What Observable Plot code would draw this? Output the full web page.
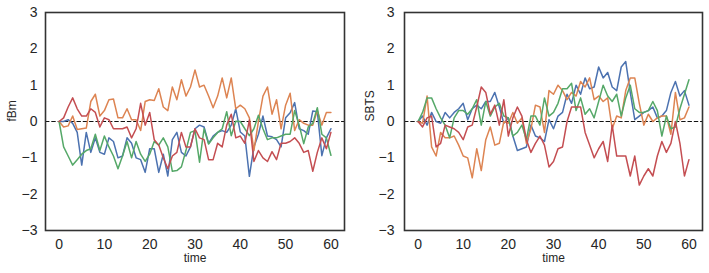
<!DOCTYPE html>
<html><head><meta charset="utf-8">
<script src="https://cdn.jsdelivr.net/npm/d3@7"></script>
<script src="https://cdn.jsdelivr.net/npm/@observablehq/plot@0.6"></script>
<style>
body{margin:0;background:#fff;}
#wrap{display:flex;width:709px;height:273px;}
#wrap svg{display:block;}
</style></head><body><div id="wrap"></div>
<script>
const time = d3.range(0, 61);
const xTicks = [0, 10, 20, 30, 40, 50, 60];
const yTicks = [-3, -2, -1, 0, 1, 2, 3];
const seriesNames = ["s1", "s2", "s3", "s4"];
const colors = ["#4C72B0", "#DD8452", "#55A868", "#C44E52"];

const fbmBlue = [0,0,0.05,-0.05,-0.3,-1.2,-0.3,-0.85,-0.45,-0.85,
  -0.9,-0.45,-0.55,-1.0,-0.95,-0.45,-0.6,-1.0,-1.05,-1.4,
  -0.75,-0.75,-1.4,-0.9,-1.5,-0.5,-0.3,-0.85,-0.95,-0.7,
  -0.2,-0.1,-0.15,-0.6,-0.4,-0.3,-0.25,-0.3,-0.1,0.35,
  -0.29,-0.4,-1.51,-0.7,-0.35,0.15,-0.4,-0.42,-0.5,-0.7,
  0.1,0.24,0.52,-0.2,-0.25,-0.35,0.29,0.27,-0.94,-0.45,-0.2];
const fbmOrange = [0,-0.15,-0.12,0.15,-0.22,-0.2,-0.18,0.55,0.75,0.15,
  0.3,0.6,0.62,0.1,0.1,0.35,0.05,0.05,-0.25,0.55,
  0.6,0.58,0.9,0.4,0.3,0.95,0.6,1.15,0.7,0.95,
  1.42,0.95,1.0,0.7,0.38,0.7,1.2,0.65,1.2,0.35,
  0.45,0.35,0.1,-0.8,0.0,0.7,0.95,0.2,0.6,-0.2,
  0.45,0.78,-0.25,0.05,-0.05,-0.1,-0.1,0.3,-0.1,0.25,0.25];
const fbmGreen = [0,-0.7,-0.95,-1.2,-1.05,-0.9,-0.8,-0.75,-0.35,-0.8,
  -0.4,-0.7,-0.95,-1.3,-0.95,-0.55,-1.0,-0.55,-0.9,-1.1,
  -0.9,-0.55,-0.65,-0.45,-0.7,-1.37,-1.35,-1.25,-0.8,-0.3,
  -0.25,-1.12,-0.2,-0.62,-0.45,-0.3,-0.2,0.27,-0.39,0.01,
  0.0,-0.2,-0.39,-0.2,0.17,-0.2,-0.5,-0.45,-0.45,-0.4,
  -0.35,-0.35,0.3,-0.1,-0.61,-0.15,-0.05,0.38,-0.35,-0.45,-0.93];
const fbmRed = [0,0.1,0.4,0.65,0.35,0.15,0.15,0.35,0.25,-0.15,
  0.1,0.05,-0.2,-0.2,-0.2,-0.15,-0.45,-0.2,0.5,-0.1,
  0.25,-0.5,-0.65,-1.0,-1.3,-0.95,-0.85,-0.3,-0.7,-0.7,
  -0.2,-0.45,-0.5,-1.05,-1.05,-0.6,-0.7,-0.1,0.2,-0.45,
  -0.4,-0.6,0.04,-1.1,-0.8,-1.0,-1.1,-0.83,-1.05,-0.6,
  -0.6,-0.55,-0.45,-0.6,-0.85,-0.8,-1.37,-0.85,-0.45,-0.75,-0.3];

const sbtsBlue = [0,0.15,-0.1,0.25,0.0,-0.05,0.25,0.1,0.25,0.35,
  0.5,0.05,0.35,0.45,0.35,0.55,0.55,0.8,0.4,-0.05,
  0.1,-0.4,-0.8,-0.75,-0.7,-0.1,-0.4,-0.45,-0.55,0.05,
  -0.2,0.15,0.25,0.75,0.5,1.0,0.75,1.2,0.9,0.95,
  1.5,1.2,1.35,0.95,0.85,1.5,1.65,0.8,0.05,0.15,
  0.25,0.3,0.4,0.1,0.15,0.3,0.8,1.1,0.7,0.85,0.45];
const sbtsOrange = [0,-0.05,0.7,-0.7,-0.95,-0.3,-0.45,-0.45,-0.4,-0.65,
  -0.95,-1.0,-1.55,-0.75,-1.35,-0.5,-0.15,-0.65,-0.6,0.0,
  -0.05,0.25,-0.05,0.1,-0.6,-0.2,0.45,0.4,-0.3,0.85,
  0.75,1.0,0.85,0.6,0.8,0.7,1.1,0.95,1.2,0.6,
  0.7,0.55,0.65,-0.2,0.15,0.1,0.85,1.2,1.2,0.5,
  -0.1,0.2,0.0,0.1,0.15,0.15,-0.35,0.8,0.05,0.1,0.4];
const sbtsGreen = [0,0.25,0.65,0.65,0.35,0.1,-0.1,-0.45,0.1,0.3,
  0.3,0.2,0.35,0.6,-0.1,0.55,0.15,0.4,0.5,0.15,
  0.1,-0.4,-0.3,-0.1,-0.5,0.15,0.15,-0.1,0.65,0.15,
  0.25,0.5,0.9,0.9,1.05,0.3,0.65,0.2,0.35,0.1,
  0.55,1.0,0.7,0.55,0.75,0.15,0.65,1.0,0.35,0.25,
  0.25,0.3,0.55,0.3,-0.4,0.15,-0.2,-0.15,0.35,0.75,1.15];
const sbtsRed = [0,-0.15,0.1,0.15,-0.7,-0.6,-0.1,-0.15,-0.2,-0.3,
  -0.5,-0.15,-0.1,0.4,0.95,0.8,0.2,0.45,-0.1,0.6,
  -0.4,0.1,0.4,0.15,-0.5,-0.85,-0.6,-0.4,-0.65,-1.25,
  -1.1,-0.75,-0.7,0.0,0.4,0.4,0.4,-0.3,-0.65,-1.0,
  -0.75,-0.55,-1.1,-0.1,-0.95,-0.95,-0.95,-1.5,-0.95,-1.75,
  -1.5,-1.3,-1.5,-0.95,-0.55,-0.85,-0.6,0.0,-0.6,-1.5,-1.05];

const intFmt = d3.format("d");

function panel(label, series, width, ml, mr, yPad, labelDx) {
  const rows = [];
  series.forEach((vals, k) => vals.forEach((v, i) => rows.push({t: time[i], v, s: seriesNames[k]})));
  return Plot.plot({
    width, height: 273,
    marginLeft: ml, marginRight: mr, marginTop: 12, marginBottom: 43,
    x: {domain: [-3, 63]},
    y: {domain: [-3, 3]},
    color: {domain: seriesNames, range: colors},
    style: {fontFamily: "'Liberation Sans', Arial, sans-serif", fontSize: "14px", color: "#262626", background: "#fff", overflow: "visible"},
    marks: [
      Plot.axisX({ticks: xTicks, tickSize: 0, tickPadding: 9, tickFormat: intFmt, label: null, fontSize: 14}),
      Plot.axisY({ticks: yTicks, tickSize: 0, tickPadding: yPad, tickFormat: intFmt, label: null, fontSize: 14}),
      Plot.text(["time"], {text: d => d, frameAnchor: "bottom", lineAnchor: "middle", dy: 28, fontSize: 12, fill: "#262626"}),
      Plot.text([label], {text: d => d, frameAnchor: "left", lineAnchor: "middle", rotate: -90, dx: labelDx, fontSize: 12, fill: "#262626"}),
      Plot.ruleY([0], {stroke: "#111", strokeDasharray: "4.4,1.9", strokeWidth: 1.2}),
      Plot.line(rows, {x: "t", y: "v", z: "s", stroke: "s", strokeWidth: 1.5}),
      Plot.frame({stroke: "#333", strokeWidth: 1.6})
    ]
  });
}

const wrap = document.getElementById("wrap");
wrap.appendChild(panel("fBm", [fbmBlue, fbmOrange, fbmGreen, fbmRed], 355, 45, 11, 8, -33));
wrap.appendChild(panel("SBTS", [sbtsBlue, sbtsOrange, sbtsGreen, sbtsRed], 354, 49, 7, 10, -34));
</script>
</body></html>
